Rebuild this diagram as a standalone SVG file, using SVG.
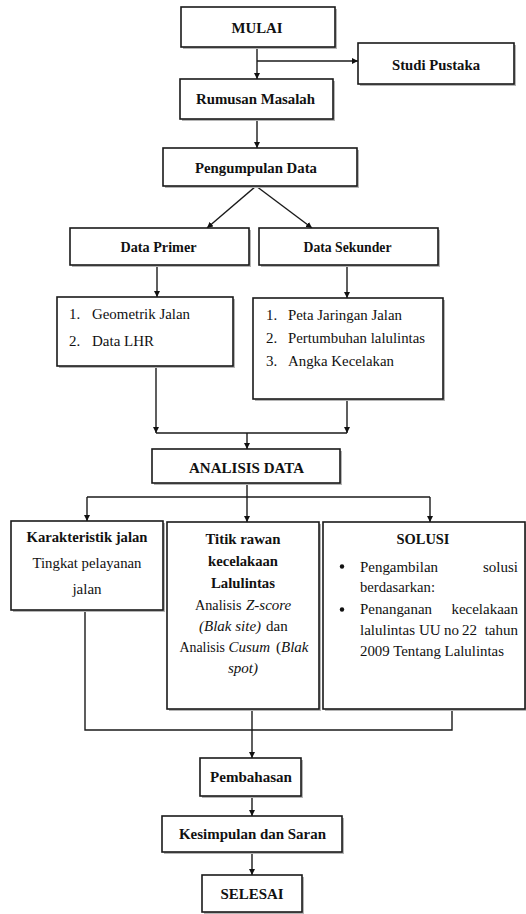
<svg xmlns="http://www.w3.org/2000/svg" width="526" height="914" viewBox="0 0 526 914">
<defs>
<marker id="ah" viewBox="0 0 10 10" refX="10" refY="5" markerWidth="6" markerHeight="6" markerUnits="userSpaceOnUse" orient="auto">
<path d="M0,0 L10,5 L0,10 z" fill="#111"/>
</marker>
<style>
.box{fill:#fff;stroke:#1a1a1a;stroke-width:1.6}
.sh{fill:#b5b5b5}
.t{font-family:"Liberation Serif","Times New Roman",serif;font-size:15px;fill:#111}
.b{font-weight:bold}
.c{text-anchor:middle}
.e{text-anchor:end}
.i{font-style:italic}
.ln{fill:none;stroke:#1a1a1a;stroke-width:1.4}
.ar{fill:none;stroke:#1a1a1a;stroke-width:1.4;marker-end:url(#ah)}
</style>
</defs>
<rect width="526" height="914" fill="#fff"/>

<g id="connectors">
<line class="ar" x1="257" y1="47" x2="257" y2="79"/>
<line class="ar" x1="257" y1="61" x2="358" y2="61"/>
<line class="ar" x1="257" y1="119" x2="257" y2="148"/>
<line class="ar" x1="256" y1="186" x2="207" y2="228"/>
<line class="ar" x1="256" y1="186" x2="312" y2="228"/>
<line class="ar" x1="157" y1="265" x2="157" y2="297"/>
<line class="ar" x1="347" y1="265" x2="347" y2="298"/>
<line class="ar" x1="156" y1="366" x2="156" y2="433"/>
<line class="ar" x1="347" y1="399" x2="347" y2="433"/>
<line class="ln" x1="156" y1="433" x2="347" y2="433"/>
<line class="ar" x1="247" y1="433" x2="247" y2="449"/>
<line class="ln" x1="247" y1="483" x2="247" y2="497"/>
<line class="ln" x1="87" y1="497" x2="430" y2="497"/>
<line class="ar" x1="87" y1="497" x2="87" y2="521"/>
<line class="ar" x1="247" y1="497" x2="247" y2="522"/>
<line class="ar" x1="430" y1="497" x2="430" y2="522"/>
<polyline class="ln" points="85,610 85,730 452,730 452,709"/>
<line class="ar" x1="252" y1="709" x2="252" y2="758"/>
<line class="ar" x1="252" y1="796" x2="252" y2="816"/>
<line class="ar" x1="252" y1="852" x2="252" y2="875"/>
</g>

<g id="mulai">
<rect class="sh" x="183" y="9" width="154" height="40"/>
<rect class="box" x="181" y="7" width="154" height="40"/>
<text class="t b c" x="257" y="33" textLength="51" lengthAdjust="spacingAndGlyphs">MULAI</text>
</g>

<g id="studi-pustaka">
<rect class="sh" x="360" y="45" width="156" height="41"/>
<rect class="box" x="358" y="43" width="156" height="41"/>
<text class="t b c" x="436" y="70" textLength="88" lengthAdjust="spacingAndGlyphs">Studi Pustaka</text>
</g>

<g id="rumusan-masalah">
<rect class="sh" x="182" y="81" width="153" height="40"/>
<rect class="box" x="180" y="79" width="153" height="40"/>
<text class="t b c" x="255.5" y="104" textLength="119" lengthAdjust="spacingAndGlyphs">Rumusan Masalah</text>
</g>

<g id="pengumpulan-data">
<rect class="sh" x="165" y="150" width="194" height="38"/>
<rect class="box" x="163" y="148" width="194" height="38"/>
<text class="t b c" x="256" y="173" textLength="122" lengthAdjust="spacingAndGlyphs">Pengumpulan Data</text>
</g>

<g id="data-primer">
<rect class="sh" x="72" y="230" width="179" height="37"/>
<rect class="box" x="70" y="228" width="179" height="37"/>
<text class="t b c" x="158.5" y="252" textLength="76" lengthAdjust="spacingAndGlyphs">Data Primer</text>
</g>

<g id="data-sekunder">
<rect class="sh" x="261" y="230" width="179" height="37"/>
<rect class="box" x="259" y="228" width="179" height="37"/>
<text class="t b c" x="347.5" y="252" textLength="88" lengthAdjust="spacingAndGlyphs">Data Sekunder</text>
</g>

<g id="data-primer-list">
<rect class="sh" x="59" y="299" width="176" height="69"/>
<rect class="box" x="57" y="297" width="176" height="69"/>
<text class="t" x="69" y="319">1.</text>
<text class="t" x="92" y="319" textLength="98" lengthAdjust="spacingAndGlyphs">Geometrik Jalan</text>
<text class="t" x="69" y="346">2.</text>
<text class="t" x="92" y="346" textLength="62" lengthAdjust="spacingAndGlyphs">Data LHR</text>
</g>

<g id="data-sekunder-list">
<rect class="sh" x="255" y="300" width="190" height="101"/>
<rect class="box" x="253" y="298" width="190" height="101"/>
<text class="t" x="266" y="320">1.</text>
<text class="t" x="288" y="320" textLength="114" lengthAdjust="spacingAndGlyphs">Peta Jaringan Jalan</text>
<text class="t" x="266" y="343">2.</text>
<text class="t" x="288" y="343" textLength="137" lengthAdjust="spacingAndGlyphs">Pertumbuhan lalulintas</text>
<text class="t" x="266" y="366">3.</text>
<text class="t" x="288" y="366" textLength="106" lengthAdjust="spacingAndGlyphs">Angka Kecelakan</text>
</g>

<g id="analisis-data">
<rect class="sh" x="154" y="451" width="188" height="34"/>
<rect class="box" x="152" y="449" width="188" height="34"/>
<text class="t b c" x="246.5" y="473" textLength="115" lengthAdjust="spacingAndGlyphs">ANALISIS DATA</text>
</g>

<g id="karakteristik-jalan">
<rect class="sh" x="13" y="523" width="152" height="89"/>
<rect class="box" x="11" y="521" width="152" height="89"/>
<text class="t b c" x="87" y="542" textLength="121" lengthAdjust="spacingAndGlyphs">Karakteristik jalan</text>
<text class="t c" x="87" y="568" textLength="109" lengthAdjust="spacingAndGlyphs">Tingkat pelayanan</text>
<text class="t c" x="87" y="594">jalan</text>
</g>

<g id="titik-rawan">
<rect class="sh" x="169" y="524" width="152" height="187"/>
<rect class="box" x="167" y="522" width="152" height="187"/>
<text class="t b c" x="243" y="544" textLength="75" lengthAdjust="spacingAndGlyphs">Titik rawan</text>
<text class="t b c" x="243" y="566" textLength="70" lengthAdjust="spacingAndGlyphs">kecelakaan</text>
<text class="t b c" x="243" y="588" textLength="64" lengthAdjust="spacingAndGlyphs">Lalulintas</text>
<text class="t" x="195" y="610" textLength="46.5" lengthAdjust="spacingAndGlyphs">Analisis</text>
<text class="t i" x="246" y="610">Z-score</text>
<text class="t i" x="199" y="631">(Blak site)</text>
<text class="t" x="266" y="631">dan</text>
<text class="t" x="179.5" y="652" textLength="45.5" lengthAdjust="spacingAndGlyphs">Analisis</text>
<text class="t i" x="228.5" y="652">Cusum</text>
<text class="t" x="276" y="652">(</text>
<text class="t i" x="281" y="652">Blak</text>
<text class="t c i" x="243" y="673">spot)</text>
</g>

<g id="solusi">
<rect class="sh" x="325" y="524" width="201" height="187"/>
<rect class="box" x="323" y="522" width="202" height="187"/>
<text class="t b c" x="423" y="544" textLength="53" lengthAdjust="spacingAndGlyphs">SOLUSI</text>
<circle cx="342" cy="566.5" r="2.2" fill="#111"/>
<text class="t" x="360" y="572" textLength="78" lengthAdjust="spacingAndGlyphs">Pengambilan</text>
<text class="t e" x="518" y="572">solusi</text>
<text class="t" x="360" y="592" textLength="75" lengthAdjust="spacingAndGlyphs">berdasarkan:</text>
<circle cx="342" cy="609.5" r="2.2" fill="#111"/>
<text class="t" x="360" y="614" textLength="72" lengthAdjust="spacingAndGlyphs">Penanganan</text>
<text class="t e" x="518" y="614">kecelakaan</text>
<text class="t" x="360" y="635">lalulintas</text>
<text class="t" x="419" y="635">UU</text>
<text class="t" x="444" y="635">no</text>
<text class="t" x="462" y="635">22</text>
<text class="t e" x="518" y="635">tahun</text>
<text class="t" x="360" y="656" textLength="144" lengthAdjust="spacingAndGlyphs">2009 Tentang Lalulintas</text>
</g>

<g id="pembahasan">
<rect class="sh" x="202" y="760" width="101" height="38"/>
<rect class="box" x="200" y="758" width="101" height="38"/>
<text class="t b c" x="251" y="782" textLength="82" lengthAdjust="spacingAndGlyphs">Pembahasan</text>
</g>

<g id="kesimpulan-saran">
<rect class="sh" x="164" y="818" width="180" height="36"/>
<rect class="box" x="162" y="816" width="180" height="36"/>
<text class="t b c" x="252.5" y="839" textLength="147" lengthAdjust="spacingAndGlyphs">Kesimpulan dan Saran</text>
</g>

<g id="selesai">
<rect class="sh" x="204" y="877" width="100" height="37"/>
<rect class="box" x="202" y="875" width="100" height="37"/>
<text class="t b c" x="252" y="899" textLength="63" lengthAdjust="spacingAndGlyphs">SELESAI</text>
</g>
</svg>
